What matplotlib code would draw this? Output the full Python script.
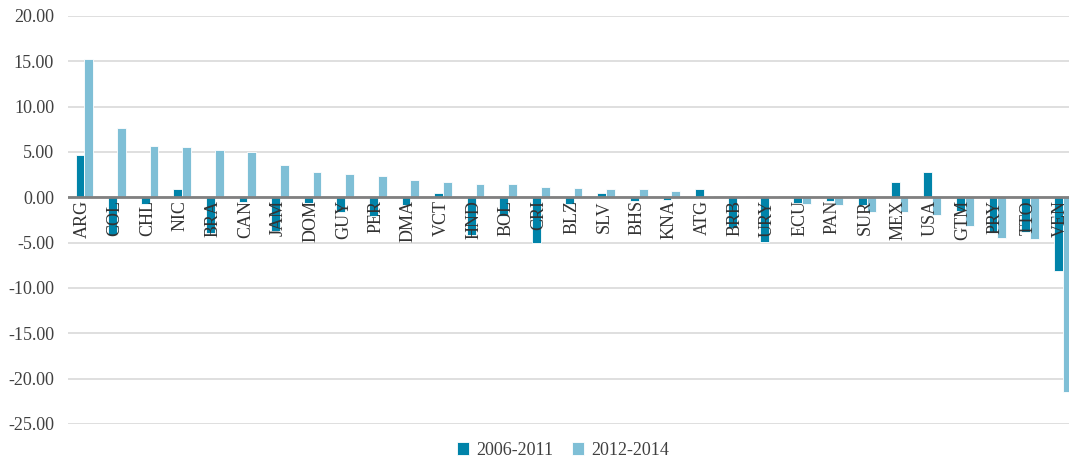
import numpy as np
import matplotlib.pyplot as plt

plt.rcParams['font.family'] = ['Liberation Serif', 'DejaVu Serif']

countries = ['ARG', 'COL', 'CHL', 'NIC', 'BRA', 'CAN', 'JAM', 'DOM', 'GUY', 'PER',
             'DMA', 'VCT', 'HND', 'BOL', 'CRI', 'BLZ', 'SLV', 'BHS', 'KNA', 'ATG',
             'BRB', 'URY', 'ECU', 'PAN', 'SUR', 'MEX', 'USA', 'GTM', 'PRY', 'TTO', 'VEN']
p2006_2011 = [4.62, -4.15, -0.72, 0.94, -3.97, -0.46, -3.70, -0.57, -1.64, -2.05,
              -0.83, 0.46, -4.15, -2.05, -5.07, -0.72, 0.46, -0.42, -0.28, 0.90,
              -3.41, -4.89, -0.65, -0.39, -0.83, 1.64, 2.82, -1.49, -3.97, -3.78, -8.13]
p2012_2014 = [15.25, 7.65, 5.70, 5.55, 5.25, 4.96, 3.60, 2.82, 2.56, 2.38,
              1.94, 1.64, 1.49, 1.49, 1.16, 1.02, 0.90, 0.90, 0.72, 0.10,
              0.10, 0.10, -0.72, -0.87, -1.64, -1.64, -1.90, -3.12, -4.44, -4.63, -21.5]

dark = '#0083A9'
light = '#7FBFD6'

fig = plt.figure(figsize=(10.69, 4.61), dpi=100)
ax = fig.add_axes([68 / 1069, 37 / 461, 1011 / 1069, 408 / 461])

x = np.arange(len(countries))
w = 0.27
ax.bar(x - w / 2, p2006_2011, w, color=dark, edgecolor='white', linewidth=0.6,
       label='2006-2011', zorder=3)
ax.bar(x + w / 2, p2012_2014, w, color=light, edgecolor='white', linewidth=0.6,
       label='2012-2014', zorder=3)

ax.set_xlim(-0.5, len(countries) - 0.5)
ax.set_ylim(-25, 20)
ax.set_yticks(np.arange(-25, 21, 5))
ax.set_yticklabels(['%.2f' % v for v in np.arange(-25, 21, 5)], fontsize=13, color='#404040')
ax.yaxis.grid(True, color='#D9D9D9', linewidth=1.2, zorder=0)
ax.axhline(0, color='#808080', linewidth=2, zorder=4)
ax.set_xticks([])
ax.tick_params(axis='y', length=0, pad=10)
for s in ax.spines.values():
    s.set_visible(False)

for i, c in enumerate(countries):
    ax.text(i - 0.06, -0.3, c, rotation=90, ha='center', va='top', fontsize=13,
            color='#333333', zorder=5)

leg = fig.legend(loc='center', ncol=2, frameon=False,
                 fontsize=13, handlelength=0.7, handleheight=0.7, handletextpad=0.4,
                 columnspacing=1.0, labelcolor='#404040')
leg.set_bbox_to_anchor((563 / 1069, 11 / 461))

fig.savefig('out.png', dpi=100)
